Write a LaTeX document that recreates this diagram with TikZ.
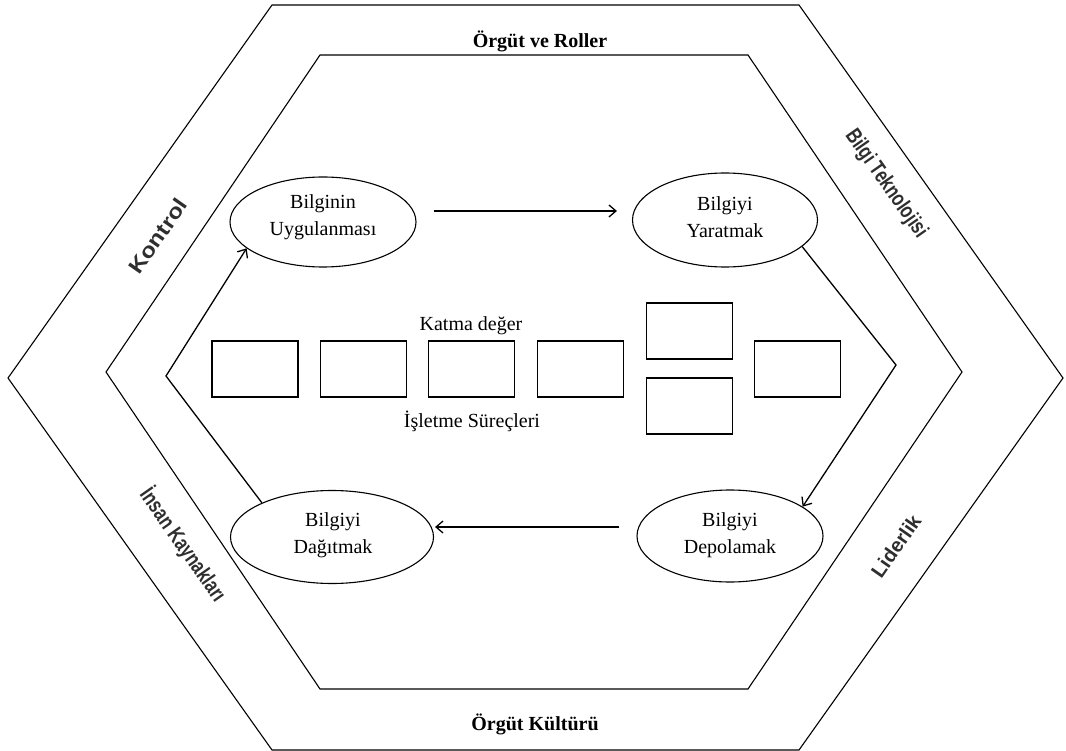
\documentclass[tikz,border=0pt]{standalone}
\usepackage{fontspec}
\setmainfont{Liberation Serif}
\newfontfamily\bandfont{Liberation Sans}
\newfontfamily\narrowband[FakeStretch=0.76]{Liberation Sans}
\newfontfamily\wideband[FakeStretch=1.15]{Liberation Sans}
\usetikzlibrary{arrows.meta,calc,shapes.geometric}

\begin{document}
\begin{tikzpicture}[x=1pt,y=-1pt,
  hexline/.style={line width=1.1pt,line join=miter},
  ell/.style={draw,ellipse,line width=1.1pt,inner sep=0pt},
  etext/.style={align=center,inner sep=0pt,font=\fontsize{20}{26.5}\selectfont},
  plain/.style={inner sep=0pt,anchor=base,font=\fontsize{20}{24}\selectfont},
  title/.style={inner sep=0pt,anchor=base,font=\fontsize{20}{24}\selectfont\bfseries},
  band/.style={inner sep=0pt,text=black!82},
  procbox/.style={draw,line width=1.1pt,minimum width=86pt,minimum height=56pt,inner sep=0pt},
  flow/.style={line width=1.3pt,-{Straight Barb[length=7pt,width=12pt]}}
]
\useasboundingbox (0,0) rectangle (1066,751);

% outer and middle hexagons
\draw[hexline] (272,5) -- (799,5) -- (1063,378) -- (799,750) -- (272,750) -- (8,378) -- cycle;
\draw[hexline] (320,55) -- (748,55) -- (962,372) -- (748,689) -- (320,689) -- (106,372) -- cycle;

% band labels
\node[title] (roller) at (540,48) {Örgüt ve Roller};
\node[title] (kultur) at (535,730) {Örgüt Kültürü};
\node[band,rotate=55,font=\wideband\bfseries\fontsize{21}{24}\selectfont] (kontrol) at (158,236) {Kontrol};
\node[band,rotate=-55,font=\narrowband\bfseries\fontsize{22}{24}\selectfont] (bt) at (886,184) {Bilgi Teknolojisi};
\node[band,rotate=55,font=\bandfont\bfseries\fontsize{20}{24}\selectfont] (lider) at (896,546) {Liderlik};
\node[band,rotate=-55,font=\narrowband\bfseries\fontsize{22}{24}\selectfont] (insan) at (183,545) {İnsan Kaynakları};

% knowledge cycle
\node[ell,minimum width=186pt,minimum height=90pt] (uyg) at (323,222) {};
\node[etext] (uygt) at (323,217) {Bilginin\\Uygulanması};
\node[ell,minimum width=185pt,minimum height=94pt] (yar) at (725,220) {};
\node[etext] (yart) at (725,217) {Bilgiyi\\Yaratmak};
\node[ell,minimum width=203pt,minimum height=93pt] (dag) at (332,537) {};
\node[etext] (dagt) at (333,535) {Bilgiyi\\Dağıtmak};
\node[ell,minimum width=186pt,minimum height=92pt] (dep) at (730,536) {};
\node[etext] (dept) at (730,535) {Bilgiyi\\Depolamak};

\coordinate (lv) at (166,376);
\coordinate (rv) at (896,365);

\draw[flow] ($(uyg.east)+(17,-11)$) -- ($(yar.west)+(-15,-9)$);
\draw[flow] ($(dep.west)+(-17,-9)$) -- ($(dag.east)+(1,-10)$);
\draw[flow] (yar.-19) -- (rv) -- (dep.22);
\draw[flow] (dag.154) -- (lv) -- (uyg.-161);

% business processes
\node[procbox] (b1) at (255,369) {};
\node[procbox] (b2) at (363.5,369) {};
\node[procbox] (b3) at (471.5,369) {};
\node[procbox] (b4) at (580.5,369) {};
\node[procbox] (b5) at (689.5,331) {};
\node[procbox] (b6) at (689.5,406) {};
\node[procbox] (b7) at (797.5,369) {};

\node[plain] (katma) at (471,331) {Katma değer};
\node[plain] (surec) at (472,428) {İşletme Süreçleri};
\end{tikzpicture}
\end{document}
